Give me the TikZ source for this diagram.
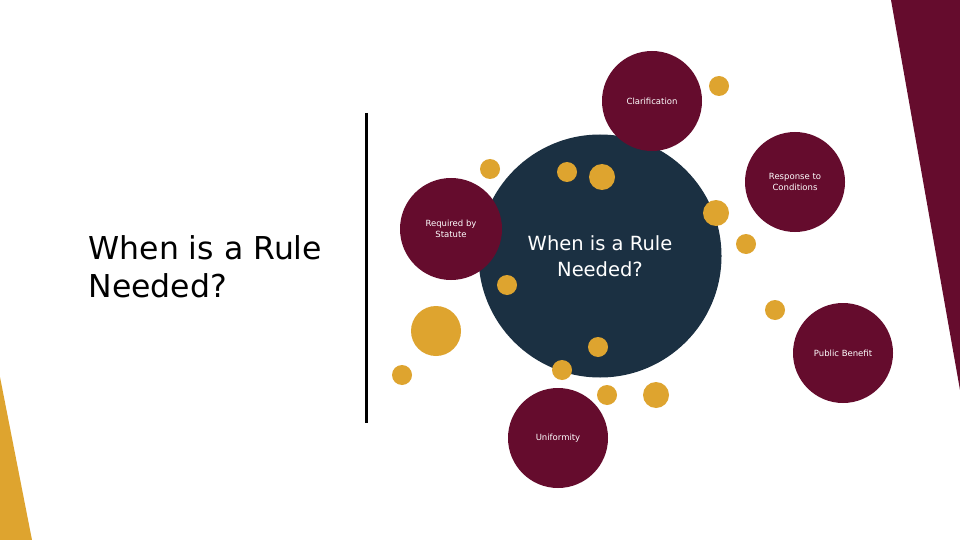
\documentclass[tikz,border=0pt]{standalone}
\usepackage{fontspec}
\setmainfont{DejaVu Sans}
\definecolor{maroon}{HTML}{650C2D}
\definecolor{navy}{HTML}{1B3042}
\definecolor{gold}{HTML}{DEA42F}
\begin{document}
\begin{tikzpicture}[x=1pt,y=-1pt,
  bubble/.style={circle, fill=maroon, minimum size=100pt, inner sep=0pt, text=white, align=center, font=\fontsize{8.5}{11}\selectfont},
  dot/.style={circle, fill=gold, inner sep=0pt, minimum size=20pt},
  bigdot/.style={dot, minimum size=26pt},
  title/.style={align=left, anchor=west, font=\fontsize{31.5}{38}\selectfont, text=black}]
\useasboundingbox[fill=white] (0,0) rectangle (960,540);
% corner shapes
\fill[maroon] (891,0) -- (960,0) -- (960,390) -- cycle;
\fill[gold] (0,377) -- (32,540) -- (0,540) -- cycle;
% divider
\draw[line width=3pt] (366,113) -- (366,423);
% left title
\node[title] (lefttitle) at (85,267) {When is a Rule\\Needed?};
% center circle
\node[circle, fill=navy, minimum size=243pt, inner sep=0pt, text=white, align=center, font=\fontsize{19.5}{26}\selectfont] (hub) at (600,256) {When is a Rule\\Needed?};
% bubbles
\node[bubble] (clar) at (652,101) {Clarification};
\node[bubble] (resp) at (795,182) {Response to\\Conditions};
\node[bubble, minimum size=102pt] (stat) at (451,229) {Required by\\Statute};
\node[bubble] (pub) at (843,353) {Public Benefit};
\node[bubble] (unif) at (558,438) {Uniformity};
% gold dots
\node[dot] (d1) at (719,86) {};
\node[dot] (d2) at (490,169) {};
\node[dot] (d3) at (567,172) {};
\node[bigdot] (d4) at (602,177) {};
\node[bigdot] (d5) at (716,213) {};
\node[dot] (d6) at (746,244) {};
\node[dot] (d7) at (507,285) {};
\node[dot, minimum size=50pt] (d8) at (436,331) {};
\node[dot] (d9) at (775,310) {};
\node[dot] (d10) at (598,347) {};
\node[dot] (d11) at (562,370) {};
\node[dot] (d12) at (402,375) {};
\node[dot] (d13) at (607,395) {};
\node[bigdot] (d14) at (656,395) {};
\end{tikzpicture}
\end{document}
